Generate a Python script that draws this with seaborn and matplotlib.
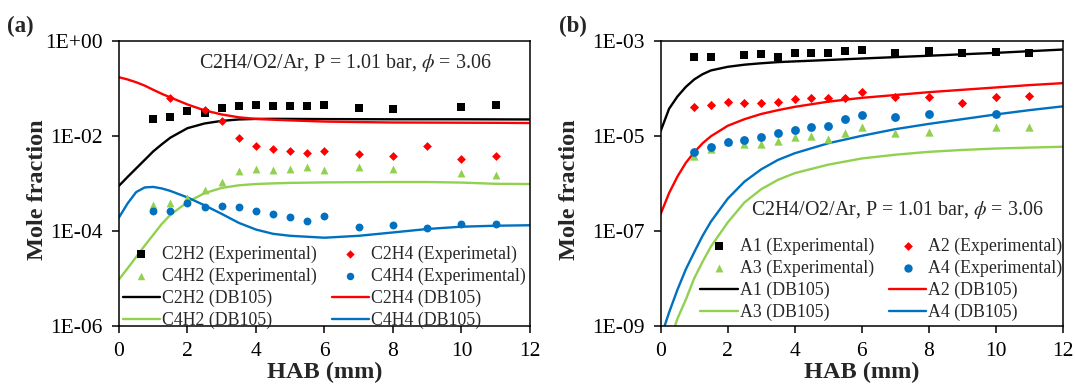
import numpy as np
import pandas as pd
import matplotlib
matplotlib.use("Agg")
import matplotlib.pyplot as plt
from matplotlib.ticker import FixedLocator, FuncFormatter, NullLocator
import seaborn as sns

# ---------------- panel (a): C2 / C4 species ----------------
hab_c2h2_exp = [1, 1.5, 2, 2.5, 3, 3.5, 4, 4.5, 5, 5.5, 6, 7, 8, 10, 11]
c2h2_exp = [0.0232, 0.026, 0.0347, 0.0305, 0.0397, 0.0437, 0.0467, 0.0443,
            0.0437, 0.0437, 0.045, 0.040, 0.0378, 0.0417, 0.0458]

hab_c2h4_exp = [1.5, 2.5, 3, 3.5, 4, 4.5, 5, 5.5, 6, 7, 8, 9, 10, 11]
c2h4_exp = [0.063, 0.0359, 0.0207, 0.0092, 0.00624, 0.0055, 0.0049, 0.00443,
            0.0049, 0.0043, 0.0039, 0.0062, 0.00325, 0.00376]

hab_c4h2_exp = [1, 1.5, 2, 2.5, 3, 3.5, 4, 4.5, 5, 5.5, 6, 7, 8, 10, 11]
c4h2_exp = [3.6e-4, 3.9e-4, 5.0e-4, 7.3e-4, 1.06e-3, 1.82e-3, 2.0e-3, 1.98e-3,
            2.0e-3, 2.2e-3, 1.96e-3, 2.2e-3, 2.0e-3, 1.68e-3, 1.55e-3]

hab_c4h4_exp = [1, 1.5, 2, 2.5, 3, 3.5, 4, 4.5, 5, 5.5, 6, 7, 8, 9, 10, 11]
c4h4_exp = [2.59e-4, 2.59e-4, 3.89e-4, 3.25e-4, 3.36e-4, 3.25e-4, 2.67e-4,
            2.31e-4, 1.93e-4, 1.64e-4, 2.03e-4, 1.21e-4, 1.33e-4, 1.17e-4,
            1.42e-4, 1.40e-4]

hab_model_a = [0, 0.25, 0.5, 0.75, 1, 1.25, 1.5, 2, 2.5, 3, 3.5, 4, 4.5, 5,
               6, 7, 8, 9, 10, 11, 12]
c2h2_model = [9.0e-4, 1.38e-3, 2.09e-3, 3.16e-3, 4.79e-3, 6.76e-3, 9.33e-3,
              0.0148, 0.0186, 0.0211, 0.0226, 0.0232, 0.0233, 0.0232, 0.0230,
              0.0229, 0.0228, 0.0228, 0.0228, 0.0227, 0.0226]
c2h4_model = [0.176, 0.158, 0.138, 0.117, 0.0955, 0.0785, 0.066, 0.0468,
              0.0351, 0.0288, 0.0251, 0.0232, 0.0223, 0.0216, 0.0204, 0.0199,
              0.0195, 0.0194, 0.0193, 0.0192, 0.019]
c4h2_model = [9.5e-6, 1.62e-5, 2.82e-5, 4.9e-5, 8.3e-5, 1.41e-4, 2.19e-4,
              4.07e-4, 6.3e-4, 8.1e-4, 9.2e-4, 9.8e-4, 1.01e-3, 1.035e-3,
              1.06e-3, 1.07e-3, 1.08e-3, 1.08e-3, 1.05e-3, 9.9e-4, 9.8e-4]
c4h4_model = [1.93e-4, 3.8e-4, 6.6e-4, 8.3e-4, 8.5e-4, 7.9e-4, 7.0e-4, 5.1e-4,
              3.47e-4, 2.29e-4, 1.48e-4, 1.07e-4, 8.7e-5, 7.9e-5, 7.2e-5,
              7.9e-5, 9.3e-5, 1.1e-4, 1.23e-4, 1.29e-4, 1.32e-4]

# ---------------- panel (b): aromatics ----------------
hab_a1_exp = [1, 1.5, 2.5, 3, 3.5, 4, 4.5, 5, 5.5, 6, 7, 8, 9, 10, 11]
a1_exp = [4.8e-4, 4.8e-4, 5.1e-4, 5.4e-4, 4.7e-4, 5.85e-4, 5.85e-4, 5.85e-4,
          6.2e-4, 6.7e-4, 5.85e-4, 6.45e-4, 5.66e-4, 5.94e-4, 5.85e-4]

hab_a2_exp = [1, 1.5, 2, 2.5, 3, 3.5, 4, 4.5, 5, 5.5, 6, 7, 8, 9, 10, 11]
a2_exp = [4.1e-5, 4.66e-5, 5.2e-5, 4.97e-5, 4.97e-5, 5.4e-5, 6.0e-5, 6.55e-5,
          6.55e-5, 6.3e-5, 8.4e-5, 6.65e-5, 6.65e-5, 4.97e-5, 6.65e-5, 6.9e-5]

hab_a3_exp = [1, 1.5, 2, 2.5, 3, 3.5, 4, 4.5, 5, 5.5, 6, 7, 8, 10, 11]
a3_exp = [3.77e-6, 5.4e-6, 7.8e-6, 6.9e-6, 6.9e-6, 8.07e-6, 9.5e-6, 1.03e-5,
          8.75e-6, 1.15e-5, 1.55e-5, 1.15e-5, 1.25e-5, 1.55e-5, 1.55e-5]

hab_a4_exp = [1, 1.5, 2, 2.5, 3, 3.5, 4, 4.5, 5, 5.5, 6, 7, 8, 10]
a4_exp = [4.7e-6, 5.8e-6, 7.7e-6, 8.35e-6, 9.5e-6, 1.17e-5, 1.38e-5, 1.6e-5,
          1.65e-5, 2.3e-5, 2.77e-5, 2.5e-5, 2.9e-5, 2.95e-5]

hab_model_b = [0, 0.25, 0.5, 0.75, 1, 1.25, 1.5, 2, 2.5, 3, 3.5, 4, 5, 6, 7,
               8, 9, 10, 11, 12]
a1_model = [1.29e-5, 3.8e-5, 6.9e-5, 1.1e-4, 1.58e-4, 2.04e-4, 2.45e-4,
            2.92e-4, 3.24e-4, 3.47e-4, 3.67e-4, 3.8e-4, 4.07e-4, 4.37e-4,
            4.68e-4, 5.0e-4, 5.37e-4, 5.75e-4, 6.24e-4, 6.76e-4]
a2_model = [2.29e-7, 6.3e-7, 1.41e-6, 2.75e-6, 4.57e-6, 7.1e-6, 1.0e-5,
            1.66e-5, 2.29e-5, 2.95e-5, 3.55e-5, 4.17e-5, 5.37e-5, 6.46e-5,
            7.41e-5, 8.51e-5, 9.55e-5, 1.07e-4, 1.2e-4, 1.32e-4]
a3_model = [6.3e-11, 4.0e-10, 1.41e-9, 3.55e-9, 1.0e-8, 2.24e-8, 4.7e-8,
            1.51e-7, 4.0e-7, 7.6e-7, 1.2e-6, 1.66e-6, 2.51e-6, 3.39e-6,
            4.07e-6, 4.68e-6, 5.13e-6, 5.5e-6, 5.75e-6, 6.0e-6]
a4_model = [5.6e-10, 1.9e-9, 5.75e-9, 1.55e-8, 3.55e-8, 7.9e-8, 1.58e-7,
            4.8e-7, 1.1e-6, 2.0e-6, 3.16e-6, 4.37e-6, 7.1e-6, 1.02e-5,
            1.41e-5, 1.82e-5, 2.29e-5, 2.88e-5, 3.55e-5, 4.27e-5]

x_ticks = [0, 2, 4, 6, 8, 10, 12]
y_ticks_a = [1e-6, 1e-4, 1e-2, 1e0]
y_ticks_b = [1e-9, 1e-7, 1e-5, 1e-3]
condition_text = r"C2H4/O2/Ar, P = 1.01 bar, $\phi$ = 3.06"

BLACK, RED, GREEN, BLUE = "#000000", "#FF0000", "#92D050", "#0070C0"

sns.set_style("ticks")
plt.rcParams["font.family"] = ["Liberation Serif", "DejaVu Serif"]
plt.rcParams["mathtext.fontset"] = "stix"
plt.rcParams["axes.linewidth"] = 1.1

fig = plt.figure(figsize=(10.75, 3.9), dpi=100)
ax_a = fig.add_axes([0.1107, 0.1649, 0.3823, 0.7287])
ax_b = fig.add_axes([0.6146, 0.1649, 0.3740, 0.7287])


def draw_panel(ax, exp_sets, model_x, model_sets):
    exp_handles, line_handles = [], []
    for (x, y, label, color, marker, size) in exp_sets:
        sns.scatterplot(x=x, y=y, ax=ax, color=color, marker=marker, s=size,
                        linewidth=0, label=label, legend=False, zorder=3)
        exp_handles.append(ax.collections[-1])
    for (y, label, color) in model_sets:
        sns.lineplot(x=model_x, y=y, ax=ax, color=color, linewidth=1.7,
                     label=label, legend=False, zorder=2)
        line_handles.append(ax.lines[-1])
    return exp_handles, line_handles


def style_axes(ax, yticks, ylim):
    ax.set_yscale("log")
    ax.set_xlim(0, 12)
    ax.set_ylim(*ylim)
    ax.xaxis.set_major_locator(FixedLocator(x_ticks))
    ax.yaxis.set_major_locator(FixedLocator(yticks))
    ax.yaxis.set_minor_locator(NullLocator())
    ax.yaxis.set_major_formatter(
        FuncFormatter(lambda v, p: "1E{:+03d}".format(int(round(np.log10(v))))))
    ax.tick_params(direction="out", length=5, width=1.1, labelsize=15.5,
                   colors="black", pad=6.5)
    for sp in ax.spines.values():
        sp.set_visible(True)
        sp.set_color("black")
    ax.set_xlabel("HAB (mm)", fontsize=17.5, fontweight="bold", labelpad=1)
    ax.set_ylabel("Mole fraction", fontsize=17.5, fontweight="bold")


exp_a = [
    (hab_c2h2_exp, c2h2_exp, "C2H2 (Experimental)", BLACK, "s", 30),
    (hab_c2h4_exp, c2h4_exp, "C2H4 (Experimetal)", RED, "D", 20),
    (hab_c4h2_exp, c4h2_exp, "C4H2 (Experimental)", GREEN, "^", 32),
    (hab_c4h4_exp, c4h4_exp, "C4H4 (Experimental)", BLUE, "o", 32),
]
model_a = [
    (c2h2_model, "C2H2 (DB105)", BLACK),
    (c2h4_model, "C2H4 (DB105)", RED),
    (c4h2_model, "C4H2 (DB105)", GREEN),
    (c4h4_model, "C4H4 (DB105)", BLUE),
]
exp_b = [
    (hab_a1_exp, a1_exp, "A1 (Experimental)", BLACK, "s", 36),
    (hab_a2_exp, a2_exp, "A2 (Experimental)", RED, "D", 22),
    (hab_a3_exp, a3_exp, "A3 (Experimental)", GREEN, "^", 36),
    (hab_a4_exp, a4_exp, "A4 (Experimental)", BLUE, "o", 40),
]
model_b = [
    (a1_model, "A1 (DB105)", BLACK),
    (a2_model, "A2 (DB105)", RED),
    (a3_model, "A3 (DB105)", GREEN),
    (a4_model, "A4 (DB105)", BLUE),
]

panels = [
    (ax_a, exp_a, hab_model_a, model_a, y_ticks_a, (1e-6, 1e0), (0.0, -0.025)),
    (ax_b, exp_b, hab_model_b, model_b, y_ticks_b, (1e-9, 1e-3), (0.09, 0.004)),
]
for ax, exp_sets, mx, msets, yt, yl, anchor in panels:
    eh, lh = draw_panel(ax, exp_sets, mx, msets)
    style_axes(ax, yt, yl)
    # two columns, filled column by column
    handles = [eh[0], eh[2], lh[0], lh[2], eh[1], eh[3], lh[1], lh[3]]
    labels = [h.get_label() for h in handles]
    ax.legend(handles, labels, ncol=2, loc="lower left", bbox_to_anchor=anchor,
              frameon=False, fontsize=12.8, handlelength=2.1,
              handletextpad=0.1, columnspacing=0.85, labelspacing=0.27,
              borderaxespad=0.0, borderpad=0.2, markerscale=0.95)

ax_a.text(0.195, 0.923, condition_text, transform=ax_a.transAxes,
          ha="left", va="center", fontsize=14.4)
ax_b.text(0.224, 0.407, condition_text, transform=ax_b.transAxes,
          ha="left", va="center", fontsize=14.4)

ax_a.yaxis.set_label_coords(-0.172, 0.477)
ax_b.yaxis.set_label_coords(-0.2, 0.477)

fig.text(7 / 1075, 1 - 26 / 390, "(a)", fontsize=16.5, fontweight="bold",
         ha="left", va="center")
fig.text(559 / 1075, 1 - 26 / 390, "(b)", fontsize=16.5, fontweight="bold",
         ha="left", va="center")

fig.savefig("out.png", dpi=100)
